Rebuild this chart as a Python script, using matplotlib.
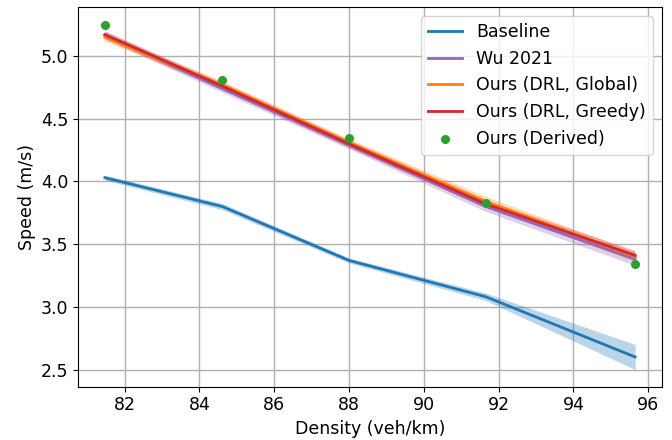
import matplotlib
matplotlib.use("Agg")
import matplotlib.pyplot as plt
import numpy as np

density = np.array([81.47, 84.61, 88.0, 91.66, 95.65])

baseline = np.array([4.03, 3.80, 3.37, 3.08, 2.60])
baseline_err = np.array([0.02, 0.025, 0.02, 0.03, 0.10])

wu2021 = np.array([5.17, 4.74, 4.29, 3.80, 3.38])
wu2021_err = np.array([0.03, 0.03, 0.03, 0.04, 0.05])

global_ = np.array([5.15, 4.77, 4.31, 3.84, 3.40])
global_err = np.array([0.03, 0.03, 0.03, 0.04, 0.04])

greedy = np.array([5.17, 4.76, 4.30, 3.82, 3.41])
greedy_err = np.array([0.03, 0.03, 0.03, 0.03, 0.04])

derived = np.array([5.25, 4.81, 4.35, 3.83, 3.34])

plt.rcParams["font.size"] = 12.5

fig = plt.figure(figsize=(6.72, 4.4), dpi=100)
ax = fig.add_axes([0.1166, 0.121, 0.868, 0.862])

series = [
    ("Baseline", baseline, baseline_err, "tab:blue"),
    ("Wu 2021", wu2021, wu2021_err, "tab:purple"),
    ("Ours (DRL, Global)", global_, global_err, "tab:orange"),
    ("Ours (DRL, Greedy)", greedy, greedy_err, "tab:red"),
]
for label, y, e, c in series:
    ax.plot(density, y, color=c, label=label, linewidth=2)
    ax.fill_between(density, y - e, y + e, color=c, alpha=0.3, linewidth=0)

ax.scatter(density, derived, color="tab:green", s=30, label="Ours (Derived)", zorder=5)

ax.set_xlabel("Density (veh/km)")
ax.set_ylabel("Speed (m/s)")
ax.grid(True, color="#b0b0b0", linewidth=1)
ax.set_axisbelow(True)
ax.legend(loc="upper right")

fig.savefig("out.png", dpi=100)
